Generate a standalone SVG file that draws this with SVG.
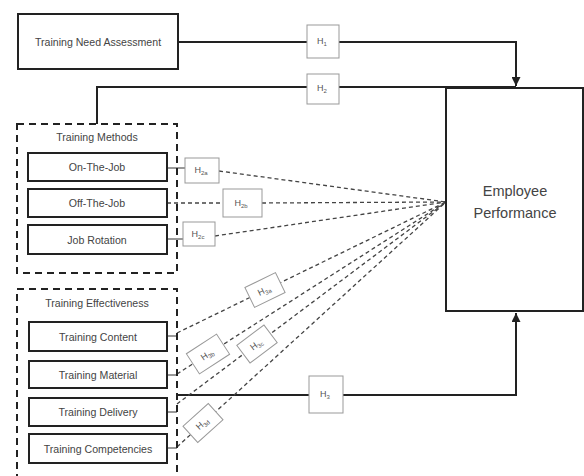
<svg xmlns="http://www.w3.org/2000/svg" width="584" height="476" viewBox="0 0 584 476">
<defs>
<marker id="arr" viewBox="0 0 10 10" refX="10" refY="5" markerWidth="4.5" markerHeight="4.5" orient="auto"><path d="M0,0 L10,5 L0,10 z" fill="#222"/></marker>
<style>
.box{fill:#fff;stroke:#222;stroke-width:2}
.grp{fill:none;stroke:#222;stroke-width:2;stroke-dasharray:7,5}
.t{font-family:"Liberation Sans",Arial,sans-serif;font-size:10.6px;fill:#444;text-anchor:middle}
.big{font-family:"Liberation Sans",Arial,sans-serif;font-size:14.5px;fill:#444;text-anchor:middle}
.h{fill:#fff;stroke:#999;stroke-width:1}
.hl{font-family:"Liberation Sans",Arial,sans-serif;font-size:9px;fill:#555;text-anchor:middle}
.sub{font-size:6px}
.solid{fill:none;stroke:#222;stroke-width:2}
.dash{fill:none;stroke:#444;stroke-width:1.3;stroke-dasharray:4,3}
.tick{fill:none;stroke:#333;stroke-width:1}
</style>
</defs>
<g id="connectors">
<path class="solid" d="M178,42 H516 V86" marker-end="url(#arr)"/>
<path class="solid" d="M97,124 V87 H516"/>
<path class="solid" d="M177,395 H516 V313" marker-end="url(#arr)"/>
<path class="tick" d="M167,168 H185"/>
<path class="dash" d="M219,171 L446,202"/>
<path class="dash" d="M167,203 H223"/>
<path class="dash" d="M262,203 L446,202"/>
<path class="tick" d="M167,239 H183"/>
<path class="dash" d="M215,236 L446,202"/>
<path class="tick" d="M167,336 H177"/>
<path class="tick" d="M167,375 H177"/>
<path class="tick" d="M167,412 H177"/>
<path class="tick" d="M167,448 H177"/>
<path class="dash" d="M177,333 L446,202"/>
<path class="dash" d="M177,374 L446,202"/>
<path class="dash" d="M177,404 L446,202"/>
<path class="dash" d="M177,447 L446,202"/>
</g>
<g id="tna"><rect class="box" x="18" y="14" width="160" height="55"/><text class="t" x="98" y="46">Training Need Assessment</text></g>
<g id="ep"><rect class="box" x="446" y="88" width="137" height="223"/><text class="big" x="515" y="196">Employee</text><text class="big" x="515" y="218">Performance</text></g>
<g id="methods"><rect class="grp" x="17" y="124" width="160" height="149"/><text class="t" x="97" y="141">Training Methods</text></g>
<g id="otj"><rect class="box" x="28" y="153" width="139" height="28"/><text class="t" x="97" y="171">On-The-Job</text></g>
<g id="offtj"><rect class="box" x="28" y="189" width="139" height="28"/><text class="t" x="97" y="207">Off-The-Job</text></g>
<g id="jr"><rect class="box" x="28" y="225" width="139" height="29"/><text class="t" x="97" y="244">Job Rotation</text></g>
<g id="effect"><rect class="grp" x="17" y="289" width="160" height="200"/><text class="t" x="97" y="307">Training Effectiveness</text></g>
<g id="tc"><rect class="box" x="29" y="322" width="138" height="29"/><text class="t" x="98" y="341">Training Content</text></g>
<g id="tm"><rect class="box" x="29" y="361" width="138" height="27"/><text class="t" x="98" y="379">Training Material</text></g>
<g id="td"><rect class="box" x="29" y="398" width="138" height="28"/><text class="t" x="98" y="416">Training Delivery</text></g>
<g id="tcp"><rect class="box" x="29" y="434" width="138" height="29"/><text class="t" x="98" y="453">Training Competencies</text></g>
<g id="h1"><rect class="h" x="307" y="25" width="32" height="33"/><text class="hl" x="322" y="44">H<tspan class="sub" dy="2">1</tspan></text></g>
<g id="h2"><rect class="h" x="307" y="74" width="32" height="30"/><text class="hl" x="322" y="91">H<tspan class="sub" dy="2">2</tspan></text></g>
<g id="h3"><rect class="h" x="309" y="376" width="34" height="37"/><text class="hl" x="325" y="397">H<tspan class="sub" dy="2">3</tspan></text></g>
<g id="h2a"><rect class="h" x="185" y="158" width="34" height="25"/><text class="hl" x="201" y="173">H<tspan class="sub" dy="2">2a</tspan></text></g>
<g id="h2b"><rect class="h" x="223" y="189" width="39" height="28"/><text class="hl" x="241" y="206">H<tspan class="sub" dy="2">2b</tspan></text></g>
<g id="h2c"><rect class="h" x="183" y="222" width="32" height="24"/><text class="hl" x="198" y="237">H<tspan class="sub" dy="2">2c</tspan></text></g>
<g id="h3a" transform="translate(265,290) rotate(-26)"><rect class="h" x="-17" y="-11" width="34" height="22"/><text class="hl" x="-1" y="3">H<tspan class="sub" dy="2">3a</tspan></text></g>
<g id="h3b" transform="translate(208,354) rotate(-33)"><rect class="h" x="-18" y="-12" width="36" height="24"/><text class="hl" x="-1" y="3">H<tspan class="sub" dy="2">3b</tspan></text></g>
<g id="h3c" transform="translate(257,344) rotate(-37)"><rect class="h" x="-17" y="-11" width="34" height="22"/><text class="hl" x="-1" y="3">H<tspan class="sub" dy="2">3c</tspan></text></g>
<g id="h3d" transform="translate(203,423) rotate(-42)"><rect class="h" x="-17" y="-11" width="34" height="22"/><text class="hl" x="-1" y="3">H<tspan class="sub" dy="2">3d</tspan></text></g>
</svg>
